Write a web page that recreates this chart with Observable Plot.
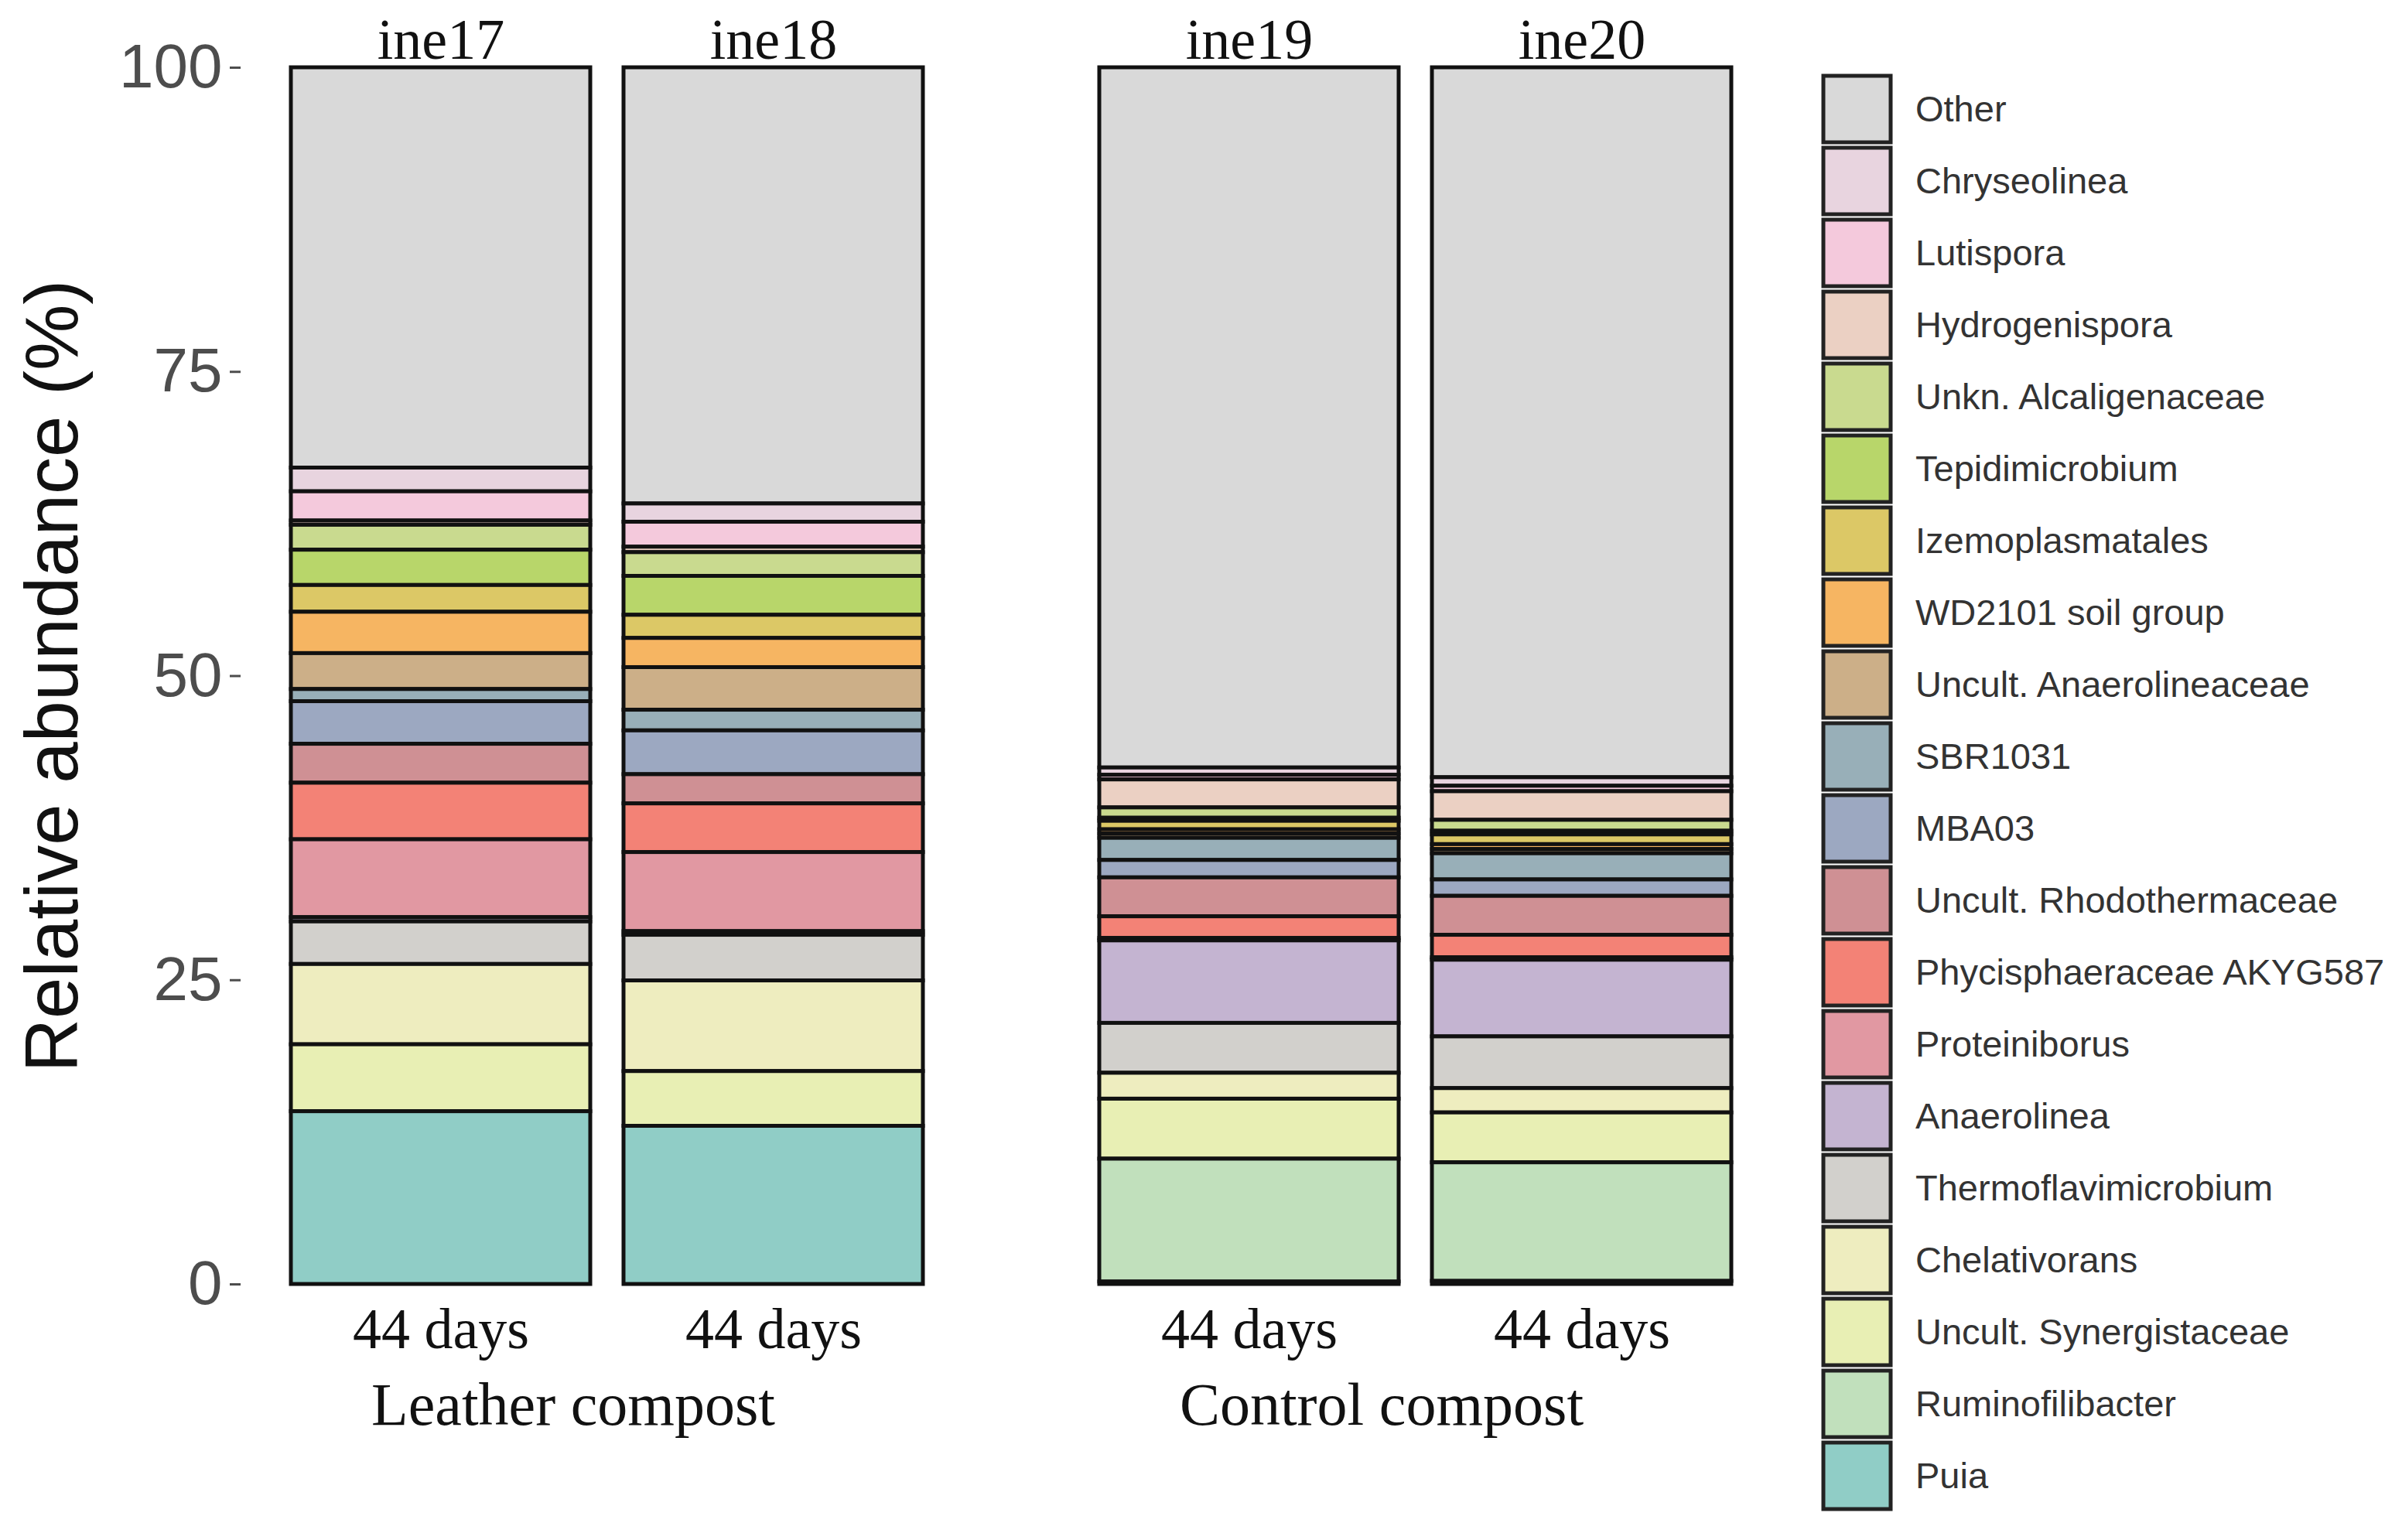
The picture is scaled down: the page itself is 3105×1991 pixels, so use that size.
<!DOCTYPE html>
<html>
<head>
<meta charset="utf-8">
<script src="https://cdn.jsdelivr.net/npm/d3@7"></script>
<script src="https://cdn.jsdelivr.net/npm/@observablehq/plot@0.6"></script>
<style>
  html, body { margin: 0; padding: 0; background: #ffffff; }
  #wrap { position: relative; width: 3105px; height: 1991px; overflow: hidden; background: #ffffff; }
  #main, #legend { position: absolute; top: 0; }
  #main { left: 0; }
  #legend { left: 2300px; }
  svg { overflow: visible; }
</style>
</head>
<body>
<div id="wrap"><div id="main"></div><div id="legend"></div></div>
<script>
// Taxa in legend order (top to bottom); stacks are drawn bottom-up in reverse order.
const taxa = [
  "Other", "Chryseolinea", "Lutispora", "Hydrogenispora", "Unkn. Alcaligenaceae",
  "Tepidimicrobium", "Izemoplasmatales", "WD2101 soil group", "Uncult. Anaerolineaceae",
  "SBR1031", "MBA03", "Uncult. Rhodothermaceae", "Phycisphaeraceae AKYG587",
  "Proteiniborus", "Anaerolinea", "Thermoflavimicrobium", "Chelativorans",
  "Uncult. Synergistaceae", "Ruminofilibacter", "Puia"
];
const taxaColors = [
  "#d9d9d9", "#e8d4df", "#f4c9dc", "#ebd0c3", "#c9da8f",
  "#b8d66a", "#dcc866", "#f6b562", "#ccaf88",
  "#98afb8", "#9ca8c1", "#cf9094", "#f38276",
  "#e198a2", "#c4b4d1", "#d2d0cc", "#eeedbf",
  "#e8efb4", "#c1e0bc", "#90cdc6"
];

// Samples and grouping
const samples = ["ine17", "ine18", "ine19", "ine20"];
const sampleGroups = ["Leather compost", "Leather compost", "Control compost", "Control compost"];
const sampleSlots = ["first", "second", "first", "second"];
const sampleDays = ["44 days", "44 days", "44 days", "44 days"];
const groupOrder = ["Leather compost", "Control compost"];
const slotOrder = ["first", "second"];

// Relative abundance (%) per sample, in the order of `taxa`
const ine17 = [32.9, 1.95, 2.4, 0.35, 2.05, 2.9, 2.2, 3.4, 2.95, 1.0, 3.5, 3.2, 4.65, 6.4, 0.35, 3.5, 6.6, 5.5, 0, 14.2];
const ine18 = [35.85, 1.5, 2.05, 0.45, 1.95, 3.2, 1.9, 2.4, 3.5, 1.7, 3.6, 2.4, 4.0, 6.5, 0.3, 3.75, 7.45, 4.5, 0, 13.0];
const ine19 = [57.55, 0.6, 0.38, 2.3, 0.85, 0.25, 0.7, 0.35, 0.35, 1.82, 1.43, 3.2, 1.78, 0.2, 6.78, 4.1, 2.13, 4.93, 10.1, 0.2];
const ine20 = [58.35, 0.7, 0.45, 2.35, 0.9, 0.3, 0.8, 0.4, 0.35, 2.15, 1.35, 3.2, 1.85, 0.2, 6.3, 4.25, 2.0, 4.1, 9.75, 0.25];
const sampleValues = [ine17, ine18, ine19, ine20];

const yTicks = [0, 25, 50, 75, 100];
const yTitle = "Relative abundance (%)";

// Build tidy table
const rows = [];
samples.forEach((s, i) => {
  taxa.forEach((t, j) => {
    rows.push({sample: s, group: sampleGroups[i], slot: sampleSlots[i], taxon: t, value: sampleValues[i][j]});
  });
});
const sampleRows = samples.map((s, i) => ({sample: s, group: sampleGroups[i], slot: sampleSlots[i], days: sampleDays[i]}));
const stackOrder = taxa.slice().reverse(); // Puia at bottom, Other on top

const serif = "'Liberation Serif', 'DejaVu Serif', serif";
const sans = "'Liberation Sans', Arial, sans-serif";

const main = Plot.plot({
  width: 2310,
  height: 1991,
  marginTop: 87,
  marginBottom: 331,
  marginLeft: 311,
  marginRight: 7,
  style: {background: "transparent", fontFamily: sans},
  fx: {domain: groupOrder, paddingInner: 0.0938, paddingOuter: 0, label: null},
  x: {domain: slotOrder, paddingInner: 0.1, paddingOuter: 0.151, axis: null},
  y: {domain: [0, 100], label: null},
  color: {domain: taxa, range: taxaColors},
  marks: [
    Plot.barY(rows, {
      fx: "group", x: "slot", y: "value", fill: "taxon",
      order: stackOrder, stroke: "#111111", strokeWidth: 5
    }),
    Plot.axisY({
      ticks: yTicks, tickSize: 14, tickPadding: 10, fontSize: 80,
      color: "#4d4d4d", label: null, strokeWidth: 3
    }),
    Plot.text([yTitle], {
      fx: () => groupOrder[0], text: d => d, frameAnchor: "left", rotate: -90,
      textAnchor: "middle", dx: -242, fontSize: 96, fill: "#111111", fontFamily: sans
    }),
    Plot.text(sampleRows, {
      fx: "group", x: "slot", text: "sample", frameAnchor: "top",
      lineAnchor: "bottom", dy: -12, fontSize: 74, fill: "#111111", fontFamily: serif
    }),
    Plot.text(sampleRows, {
      fx: "group", x: "slot", text: "days", frameAnchor: "bottom",
      lineAnchor: "top", dy: 30, fontSize: 74, fill: "#111111", fontFamily: serif
    }),
    Plot.axisFx({
      anchor: "bottom", tickSize: 0, tickPadding: 126, fontSize: 78, dx: -44,
      label: null, fontFamily: serif, color: "#111111"
    })
  ]
});
document.getElementById("main").appendChild(main);

const legend = Plot.plot({
  width: 805,
  height: 1991,
  marginTop: 93,
  marginBottom: 35,
  marginLeft: 57,
  marginRight: 661,
  style: {background: "transparent", fontFamily: sans},
  x: {domain: ["swatch"], padding: 0, axis: null},
  y: {domain: taxa, paddingInner: 0.08, paddingOuter: 0, axis: null},
  color: {domain: taxa, range: taxaColors},
  marks: [
    Plot.cell(taxa, {x: () => "swatch", y: d => d, fill: d => d, stroke: "#222222", strokeWidth: 5}),
    Plot.text(taxa, {
      x: () => "swatch", y: d => d, text: d => d, textAnchor: "start",
      dx: 75, fontSize: 47, fill: "#333333", fontFamily: sans
    })
  ]
});
document.getElementById("legend").appendChild(legend);
</script>
</body>
</html>
